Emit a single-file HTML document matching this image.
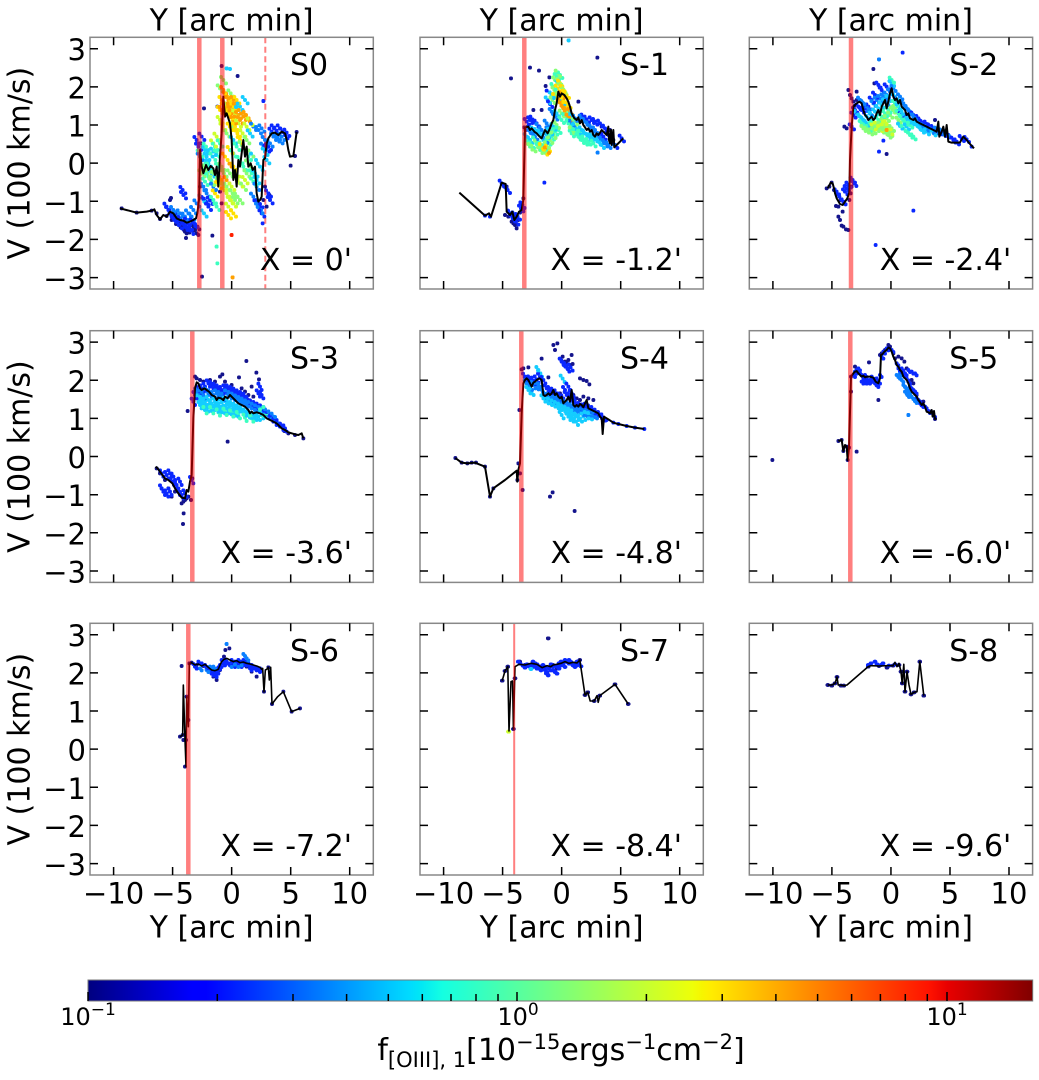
<!DOCTYPE html>
<html><head><meta charset="utf-8"><style>
html,body{margin:0;padding:0;background:#fff;}
svg{display:block;}
text{font-family:"DejaVu Sans","Liberation Sans",sans-serif;fill:#000;}
.ln{fill:none;stroke:#000;stroke-width:2;stroke-linejoin:round;vector-effect:non-scaling-stroke;}
.ln2{fill:none;stroke:#000;stroke-width:1.6;stroke-linejoin:round;vector-effect:non-scaling-stroke;}
.pn{fill:none;stroke:none;marker-start:url(#mn);marker-mid:url(#mn);marker-end:url(#mn);}
.pb{fill:none;stroke:none;marker-start:url(#mb);marker-mid:url(#mb);marker-end:url(#mb);}
.pa{fill:none;stroke:none;marker-start:url(#ma);marker-mid:url(#ma);marker-end:url(#ma);}
.pc{fill:none;stroke:none;marker-start:url(#mc);marker-mid:url(#mc);marker-end:url(#mc);}
.pq{fill:none;stroke:none;marker-start:url(#mq);marker-mid:url(#mq);marker-end:url(#mq);}
.pg{fill:none;stroke:none;marker-start:url(#mg);marker-mid:url(#mg);marker-end:url(#mg);}
.pl{fill:none;stroke:none;marker-start:url(#ml);marker-mid:url(#ml);marker-end:url(#ml);}
.py{fill:none;stroke:none;marker-start:url(#my);marker-mid:url(#my);marker-end:url(#my);}
.po{fill:none;stroke:none;marker-start:url(#mo);marker-mid:url(#mo);marker-end:url(#mo);}
.pr{fill:none;stroke:none;marker-start:url(#mr);marker-mid:url(#mr);marker-end:url(#mr);}
</style></head><body>
<svg width="1039" height="1080" viewBox="0 0 1039 1080">
<defs>
<linearGradient id="jet" x1="0" y1="0" x2="1" y2="0">
<stop offset="0" stop-color="#000080"/><stop offset="0.11" stop-color="#0000ff"/><stop offset="0.125" stop-color="#0000ff"/><stop offset="0.34" stop-color="#00dbff"/><stop offset="0.35" stop-color="#00e5f7"/><stop offset="0.375" stop-color="#14ffe2"/><stop offset="0.64" stop-color="#eeff08"/><stop offset="0.65" stop-color="#f7f500"/><stop offset="0.66" stop-color="#ffec00"/><stop offset="0.89" stop-color="#ff1300"/><stop offset="0.91" stop-color="#e80000"/><stop offset="1" stop-color="#800000"/>
</linearGradient>
<marker id="mn" markerUnits="userSpaceOnUse" markerWidth="12" markerHeight="12" viewBox="0 0 2 2" refX="1" refY="1"><circle cx="1" cy="1" r="1" fill="#14148c"/></marker>
<marker id="mb" markerUnits="userSpaceOnUse" markerWidth="12" markerHeight="12" viewBox="0 0 2 2" refX="1" refY="1"><circle cx="1" cy="1" r="1" fill="#0a28ff"/></marker>
<marker id="ma" markerUnits="userSpaceOnUse" markerWidth="12" markerHeight="12" viewBox="0 0 2 2" refX="1" refY="1"><circle cx="1" cy="1" r="1" fill="#0a80ff"/></marker>
<marker id="mc" markerUnits="userSpaceOnUse" markerWidth="12" markerHeight="12" viewBox="0 0 2 2" refX="1" refY="1"><circle cx="1" cy="1" r="1" fill="#14cdff"/></marker>
<marker id="mq" markerUnits="userSpaceOnUse" markerWidth="12" markerHeight="12" viewBox="0 0 2 2" refX="1" refY="1"><circle cx="1" cy="1" r="1" fill="#3cffc0"/></marker>
<marker id="mg" markerUnits="userSpaceOnUse" markerWidth="12" markerHeight="12" viewBox="0 0 2 2" refX="1" refY="1"><circle cx="1" cy="1" r="1" fill="#86ff76"/></marker>
<marker id="ml" markerUnits="userSpaceOnUse" markerWidth="12" markerHeight="12" viewBox="0 0 2 2" refX="1" refY="1"><circle cx="1" cy="1" r="1" fill="#ccff2c"/></marker>
<marker id="my" markerUnits="userSpaceOnUse" markerWidth="12" markerHeight="12" viewBox="0 0 2 2" refX="1" refY="1"><circle cx="1" cy="1" r="1" fill="#ffe000"/></marker>
<marker id="mo" markerUnits="userSpaceOnUse" markerWidth="12" markerHeight="12" viewBox="0 0 2 2" refX="1" refY="1"><circle cx="1" cy="1" r="1" fill="#ffa000"/></marker>
<marker id="mr" markerUnits="userSpaceOnUse" markerWidth="12" markerHeight="12" viewBox="0 0 2 2" refX="1" refY="1"><circle cx="1" cy="1" r="1" fill="#ff2000"/></marker>
<g id="ax">
<rect x="0" y="0" width="283.3" height="251.7" fill="none" stroke="#888" stroke-width="1.5"/>
<path d="M23.6 251.7v-8M82.6 251.7v-8M141.65 251.7v-8M200.7 251.7v-8M259.7 251.7v-8M23.6 0v8M82.6 0v8M141.65 0v8M200.7 0v8M259.7 0v8M0 11.44h8M0 49.6h8M0 87.7h8M0 125.85h8M0 164h8M0 202.1h8M0 240.3h8M283.3 11.44h-8M283.3 49.6h-8M283.3 87.7h-8M283.3 125.85h-8M283.3 164h-8M283.3 202.1h-8M283.3 240.3h-8" stroke="#000" stroke-width="1.5" fill="none"/>
</g>
</defs>
<rect width="1039" height="1080" fill="#fff"/>

<!-- S0 -->
<g transform="scale(0.333333)">
<polyline class="pn" points="365,625 410,638 455,632 470,640 480,657 500,648 510,600 513,594 520,640 525,648 530,660 535,655 540,668 545,672 548,680 552,690 558,714 560,700 565,685 570,690 575,675 580,680 585,690 590,700 595,705 598,688 600,560 603,430 605,520 612,325 637,707 606,830 665,198 713,228 652,320 660,575 665,610 790,600 795,560 800,620 808,585 872,497 885,468 890,396 515,660 528,672 542,682 555,695 568,698 580,692 592,680"/>
<g id="c0">
<polyline class="pb" points="500,620 505,630 515,650 522,655 528,665 532,650 538,675 542,660 550,672 555,680 562,665 568,680 572,692 578,668 585,672 548,570 550,585 590,420 595,440 605,410 612,600 618,605 625,620 630,602 770,610 780,612 785,640 800,445 805,440 815,395 822,385 830,392 840,385 848,395 855,405 860,398 805,580 810,600"/>
<polyline class="pa" points="520,630 530,645 540,640 555,650 565,640 575,650 580,630 590,610 610,560 620,580 640,560 600,470 760,590 770,560 775,620 780,630 790,440 795,420 810,430 820,410 830,415 840,420 845,410 760,380 775,390 785,385"/>
<polyline class="pc" points="615,450 620,470 630,460 640,455 700,420 715,330 720,320 735,300 750,400 760,470 765,520 780,500 770,540 625,490 635,520 610,510 795,455 800,480 605,595 612,640"/>
<polyline class="pq" points="600,460 608,480 618,440 628,500 638,470 645,440 650,460 655,500 660,430 700,460 710,440 720,480 730,500 745,470 755,520 760,545 640,600 650,620 625,530 615,545"/>
<polyline class="pg" points="605,520 615,505 622,520 635,545 642,525 660,540 665,500 672,520 680,560 690,520 698,580 705,600 712,590 720,600 730,560 740,520 745,490 752,460 740,420 725,435 700,380 688,320 692,280 680,400 670,240 660,265"/>
<polyline class="pl" points="640,430 650,410 670,560 680,580 690,600 700,610 685,620 695,560 710,520 720,550 735,540 728,400 740,380 750,365 715,370 705,340 660,360 668,380"/>
<polyline class="py" points="665,300 672,320 680,330 690,345 698,360 705,380 712,400 720,420 690,380 700,320 710,300 682,290 660,330 675,470 690,450 700,500 665,540 655,555 645,580 685,645 700,640"/>
<polyline class="po" points="670,270 678,285 685,300 690,320 695,340 700,300 708,320 715,345 720,360 730,350 738,345 742,355 675,310 665,330 680,540 695,500 700,360"/>
</g>
<use href="#c0" transform="translate(8,10)"/>
<use href="#c0" transform="translate(-7,-9)"/>
<polyline class="pc" points="680,205 690,207 680,205"/>
<polyline class="pq" points="650,740 652,790 650,740"/>
<polyline class="pb" points="790,303 788,670 790,303"/>
<polyline class="po" points="698,832 698,832"/>
<polyline class="pr" points="695,705 695,705"/>
<polyline class="ln" points="360,625 410,638 440,635 455,632 463,628 470,645 480,658 490,645 500,650 510,635 520,640 530,655 540,660 550,662 560,668 570,665 580,660 588,655 592,640 597,600 600,450 605,500 610,520 618,495 625,510 632,498 640,505 645,525 650,500 655,560 660,470 665,400 670,290 675,350 680,340 690,370 695,420 700,540 705,510 710,560 715,480 720,500 725,460 730,420 735,470 740,440 745,500 752,490 758,510 765,500 770,580 775,605 780,600 785,590 790,480 795,475 800,430 805,415 815,400 825,398 835,405 845,395 855,400 860,420 865,450 870,470 880,468 890,396"/>
</g>

<!-- S-1 -->
<g transform="translate(415,30) scale(0.333333)">
<polyline class="pn" points="288,145 345,113 372,122 403,142 392,168 490,215 547,83 270,555 275,470 280,560 290,575 295,580 300,585 305,595 310,570 315,548 320,520 325,505 328,292 332,300 338,290 355,240 380,240 585,300 590,320 595,330 560,290 575,305"/>
<g id="c1">
<polyline class="pb" points="260,460 268,470 278,480 285,550 293,565 298,555 303,575 308,560 318,535 322,525 335,275 345,270 352,268 365,280 405,222 540,275 555,280 570,295 580,315 600,345 620,325 565,320 530,270 515,268 505,262"/>
<polyline class="pa" points="340,300 350,310 360,320 370,290 380,300 395,280 410,245 420,260 500,265 510,275 520,285 530,295 540,300 550,320 560,330 570,340 580,345 590,335 480,265 470,280 400,300 390,330"/>
<polyline class="pc" points="335,320 345,330 355,300 365,305 375,310 385,330 395,315 405,305 415,290 425,250 440,215 455,230 470,260 480,290 490,305 500,300 510,310 520,320 530,320 540,325 550,335 560,345 398,210 410,195 430,160"/>
<polyline class="pq" points="340,340 350,345 360,330 370,350 380,345 390,355 400,335 410,320 420,305 430,300 440,270 450,260 460,280 470,310 490,320 500,330 510,335 520,335 535,340 495,310 480,305 425,140 435,135 415,170"/>
<polyline class="pg" points="345,350 355,355 365,340 375,360 385,360 395,345 405,330 415,315 425,285 440,250 450,240 460,255 470,300 480,275 420,150 428,130 432,155 438,170 445,180 418,180 425,200 412,210"/>
<polyline class="py" points="380,350 390,365 398,355 420,200 428,175 435,160 442,175 448,190 455,195 445,210 460,225 450,225"/>
<polyline class="po" points="395,360 440,195 445,235 450,240 455,250 460,262 465,245 440,225 435,215"/>
</g>
<use href="#c1" transform="translate(7,9)"/>
<use href="#c1" transform="translate(-6,-8)"/>
<polyline class="pb" points="210,557 225,560 388,458 395,182"/>
<polyline class="pa" points="548,368 548,368"/>
<polyline class="pc" points="461,31 461,31"/>
<polyline class="ln" points="133,488 210,557 222,550 228,560 260,458 272,462 275,545 285,555 292,545 298,570 305,560 312,545 320,540 325,510 330,292 340,290 345,300 350,295 358,305 365,310 372,318 380,325 385,312 390,300 398,310 405,295 410,280 415,270 420,240 425,220 430,185 435,200 440,190 448,195 455,205 460,215 465,230 470,250 478,265 485,270 490,262 495,280 500,270 505,285 510,292 515,300 520,295 525,305 530,300 535,315 540,320 545,310 550,315 555,308 560,300 565,305 570,310 575,315 580,290 582,330 585,340 588,300 590,345 595,300 598,352 605,345 625,325"/>
</g>

<!-- S-2 -->
<g transform="translate(700,0) scale(0.333333)">
<polyline class="pn" points="520,207 523,250 445,270 450,285 455,295 460,305 463,318 470,275 433,380 440,385 380,565 388,560 395,548 402,570 408,618 415,620 422,600 428,635 415,650 420,660 425,677 430,680 438,688 445,690 448,600 452,580 455,560 560,462 470,300 705,360 715,400"/>
<g id="c2">
<polyline class="pb" points="410,575 418,590 430,605 435,575 440,565 445,555 458,540 462,550 455,380 460,345 465,330 475,320 485,330 495,325 505,320 515,300 525,285 535,255 545,270 560,260 575,250 600,340 620,350 640,345 655,355 665,368 680,372 690,380 700,385 720,395 730,400 745,405 760,420 770,425 785,415 800,418"/>
<polyline class="pa" points="480,300 490,310 500,320 510,340 520,310 530,300 540,295 550,290 560,285 570,275 580,265 590,300 600,290 610,310 620,325 630,335 640,350 650,360 660,375 670,380 680,385 695,392 710,390 725,395 740,400 555,300 565,315"/>
<polyline class="pc" points="470,340 480,350 490,360 500,370 505,355 515,345 525,335 535,325 545,315 555,305 565,295 575,250 585,290 595,320 605,335 615,350 625,360 635,365 645,370 655,380 665,390 680,395 700,398 620,380 600,378"/>
<polyline class="pq" points="485,370 495,380 505,385 515,375 525,370 535,360 545,350 555,340 565,330 575,240 585,310 595,340 605,355 615,365 630,375 640,410 630,405 610,385"/>
<polyline class="pg" points="490,385 500,390 510,395 520,392 530,385 540,375 550,365 560,355 570,345 578,330 585,325 595,360 545,390 555,395 565,390 575,385 570,400 565,405"/>
<polyline class="pl" points="520,380 530,375 540,385 550,380 555,372 560,370 565,380 570,395"/>
</g>
<use href="#c2" transform="translate(7,8)"/>
<use href="#c2" transform="translate(-6,-7)"/>
<polyline class="pb" points="537,455 550,422 640,632 527,735 608,158 815,440"/>
<polyline class="pa" points="537,178 537,178"/>
<polyline class="po" points="560,390 560,390"/>
<polyline class="ln" points="383,565 392,548 398,550 402,565 405,580 410,595 420,612 428,615 435,605 442,595 448,578 450,480 455,380 460,320 465,315 470,310 478,305 485,310 490,330 495,345 500,350 505,360 510,355 515,350 520,360 525,355 530,340 535,330 540,345 545,320 550,310 555,300 560,325 565,305 570,280 575,265 580,290 585,300 590,295 595,310 600,300 605,320 610,325 615,330 620,345 625,340 630,355 640,360 645,355 650,365 660,370 670,375 680,380 690,385 700,390 710,395 715,365 718,410 725,395 730,380 735,410 740,375 745,425 755,428 765,428 775,428 780,427 790,410 800,420 810,432 822,445"/>
</g>

<!-- S-3 -->
<g transform="translate(85,325) scale(0.333333)">
<polyline class="pn" points="484,108 412,148 462,157 514,143 522,163 500,185 428,350 308,258 294,597 296,565 290,535 295,530 300,525 305,520 310,515 318,525 322,460 215,430 225,445 240,465 250,490 260,515 270,500 330,155 335,160 345,165 355,170 375,165 390,170 405,155 420,170 440,180 470,190 480,200 490,210 505,215 598,318 610,325 630,330 655,340"/>
<g id="c3">
<polyline class="pb" points="230,445 245,450 255,445 262,470 275,480 285,470 290,510 300,505 265,455 280,500 230,490 235,500 245,505 255,500 320,465 325,230 330,210 340,195 350,190 360,185 370,175 380,180 390,185 400,190 410,195 420,190 430,190 440,195 450,200 460,205 470,210 480,215 490,225 500,235 510,240 520,245 530,250 540,255 550,270 560,280 570,290 580,295 590,305 600,310 520,205 530,210 525,185"/>
<polyline class="pa" points="335,200 345,205 355,210 365,200 375,205 385,210 395,205 405,210 415,215 425,205 435,210 445,215 455,220 465,225 475,230 485,235 495,240 505,245 515,250 525,255 535,258 545,262 555,268 565,275 575,285"/>
<polyline class="pc" points="340,220 350,225 360,230 370,225 380,235 390,230 400,235 410,232 420,228 430,232 440,240 450,245 460,250 470,255 480,262 490,268 500,272 510,275 520,275 530,270 345,240 355,245 365,250 375,248 385,245 395,250 405,252 415,255 425,255 435,258 445,262 455,265"/>
<polyline class="pq" points="360,255 380,255 400,262 420,260 440,265 460,270 480,278 500,280 530,262 540,255"/>
</g>
<use href="#c3" transform="translate(5,10)"/>
<use href="#c3" transform="translate(-5,-9)"/>
<polyline class="ln" points="212,425 218,430 225,440 232,450 240,460 250,465 262,475 270,490 280,505 290,518 300,520 305,495 310,500 315,470 320,450 325,280 330,190 335,172 340,175 345,190 350,195 358,190 365,195 372,200 380,210 390,215 395,225 400,218 408,220 415,225 420,215 428,220 435,210 440,215 445,220 450,225 455,230 460,235 470,240 480,245 490,255 495,265 500,260 505,265 515,262 525,265 535,270 540,275 545,280 555,285 565,290 575,295 580,300 590,310 600,315 610,322 620,325 630,328 640,330 650,325 655,340"/>
</g>

<!-- S-4 -->
<g transform="translate(380,280) scale(0.333333)">
<polyline class="pn" points="520,195 532,190 525,210 548,230 555,245 560,250 565,240 570,255 575,225 578,252 485,236 445,262 430,265 600,295 610,300 620,303 628,313 625,355 640,360 505,292 510,650 518,637 584,693 428,630 420,580 415,550 418,390 425,268 226,534 245,548 262,550 275,548 288,548 315,560 330,650 340,625 412,600 580,345 590,355 600,360 610,350 560,380 540,340"/>
<g id="c4">
<polyline class="pb" points="550,250 558,258 562,265 572,262 545,245 435,290 440,300 450,298 460,302 470,298 480,290 490,300 500,325 510,330 520,335 530,340 540,350 550,355 560,345 570,350 580,365 590,370 600,378 610,382 620,380 630,385 640,390 650,398 660,405 670,412 555,330 565,320 575,340"/>
<polyline class="pa" points="440,310 450,320 460,315 470,318 480,320 495,345 505,350 515,355 525,360 535,360 545,365 555,370 565,375 575,380 585,385 595,390 605,395 615,398 625,400 635,402 645,405"/>
<polyline class="pc" points="445,330 455,335 475,270 480,280 490,355 500,360 510,365 520,370 530,375 540,380 550,385 560,390 570,395 580,400 590,410 600,415 610,410 620,405 630,408 545,405 565,410 575,415 588,425 548,296"/>
</g>
<use href="#c4" transform="translate(6,10)"/>
<use href="#c4" transform="translate(-6,-9)"/>
<polyline class="pb" points="680,420 700,428 715,432 740,438 765,443 793,447"/>
<polyline class="ln" points="226,534 245,548 262,550 285,548 315,560 330,650 340,625 375,600 410,572 412,605 415,570 420,550 425,400 430,310 435,300 440,295 445,300 450,310 455,320 460,308 465,305 470,300 478,295 485,300 490,345 495,348 500,345 505,340 510,345 515,340 520,330 525,345 530,340 535,350 540,355 545,350 550,370 555,365 560,360 565,350 570,365 575,330 580,375 585,380 590,375 595,380 600,372 605,375 610,382 615,370 620,360 625,385 635,390 645,395 655,400 660,410 665,415 668,462 672,410 685,418 700,428 715,432 740,438 765,443 793,447"/>
</g>

<!-- S-5 -->
<g transform="translate(745,325) scale(0.333333)">
<polyline class="pn" points="82,405 400,225 372,112 335,380 280,348 290,345 295,378 305,365 308,405 312,368 318,200 318,155 405,90 410,85 420,75 430,60 435,65 445,85 450,100 460,95 470,100 478,110 485,130 500,165 505,175 515,210 525,230 535,230 545,250 555,260 570,282 330,125"/>
<g id="c5">
<polyline class="pb" points="325,150 330,140 335,135 340,130 345,145 350,150 355,160 360,150 365,160 370,170 375,165 380,155 385,165 390,175 395,180 395,160 400,170 405,150 350,170 360,170 410,95 415,80 425,70 440,75 455,115 460,130 465,140 470,130 475,150 480,145 485,160 490,170 495,185 500,190 505,195 510,200 515,220 520,225 525,235 530,240 540,245 550,258 560,262 565,270 490,135 500,140 510,145"/>
<polyline class="pa" points="455,150 460,155 470,165 475,180 480,185 485,190 490,200 495,210 500,215 505,222 510,228 480,200 487,210 465,145"/>
</g>
<use href="#c5" transform="translate(5,6)"/>
<polyline class="pa" points="490,270 490,270"/>
<polyline class="ln" points="280,348 290,345 295,378 300,360 305,365 308,405 312,368 318,155 325,145 330,140 335,138 340,145 345,150 350,155 355,152 360,157 365,155 375,155 385,158 392,170 400,175 405,160 408,90 412,88 418,80 425,75 430,68 435,70 440,80 445,95 450,105 455,120 460,125 465,135 470,140 475,155 480,160 485,165 490,175 495,190 500,200 505,205 510,210 515,215 520,225 525,232 530,240 535,235 540,245 545,260 550,262 555,265 560,255 563,275 567,258 570,282 575,280"/>
</g>

<!-- S-6 -->
<g transform="translate(0,580) scale(0.333333)">
<polyline class="pn" points="545,258 540,470 548,465 550,480 555,560 558,480 560,350 565,420 568,250 575,248 590,255 600,250 610,258 625,262 640,290 650,300 660,270 672,230 676,210 688,205 700,250 720,245 740,260 755,275 770,290 785,270 792,335 805,262 816,372 850,335 875,395 900,385"/>
<g id="c6">
<polyline class="pb" points="580,252 585,260 595,245 605,250 615,255 620,265 630,275 635,280 640,270 645,285 650,275 655,262 660,255 665,240 670,250 675,240 680,245 685,250 690,250 695,240 700,255 705,245 710,250 715,240 720,255 725,250 730,240 735,250 740,245 745,250 750,265 755,255 760,260 765,265 770,262 775,270 780,265"/>
<polyline class="pa" points="600,265 620,270 630,260 640,260 690,255 700,248 710,255 720,250 730,222 740,235"/>
</g>
<use href="#c6" transform="translate(5,6)"/>
<polyline class="pa" points="680,192 680,192"/>
<polyline class="ln2" points="540,470 548,465 550,315 555,480 558,560 560,350 565,440 568,250 575,248 585,255 595,252 605,258 615,253 625,262 635,270 645,272 655,268 660,255 665,245 672,238 680,235 690,240 700,245 710,242 720,248 730,246 740,250 750,252 760,255 770,258 780,262 785,268 788,265 792,335 796,270 800,268 805,262 808,300 812,262 816,372 833,350 850,335 875,395 900,385"/>
</g>

<!-- S-7 and S-8 -->
<g transform="translate(415,615) scale(0.4,0.333333)">
<polyline class="pn" points="333,70 218,197 225,168 232,155 246,342 250,190 262,140 275,150 300,145 320,160 330,175 345,150 355,160 370,150 385,142 400,150 412,135 425,240 432,232 448,258 462,242 500,208 533,267"/>
<g id="c7">
<polyline class="pb" points="258,140 270,152 280,148 290,150 295,140 300,155 305,148 310,160 315,155 320,150 325,165 328,175 335,160 340,148 345,165 350,170 355,155 360,145 365,140 370,150 375,135 380,140 385,135 390,145 395,150 400,145 405,140 410,148"/>
</g>
<use href="#c7" transform="translate(5,6)"/>
<polyline class="pc" points="290,162 290,162"/>
<polyline class="pl" points="234,350 234,350"/>
<polyline class="ln2" points="218,197 225,168 232,155 235,348 240,200 244,198 246,342 250,155 260,148 275,150 290,145 305,148 318,158 330,152 340,155 345,150 355,148 365,145 375,140 385,145 395,142 405,144 412,135 425,240 432,232 438,258 448,258 455,242 458,262 462,242 500,208 533,267"/>
<polyline class="pn" points="1032,210 1042,212 1050,205 1055,186 1065,212 1072,212 1133,155 1160,153 1180,158 1195,152 1210,150 1215,170 1218,205 1225,230 1240,238 1262,140 1272,242 1230,170 1248,232"/>
<polyline class="pb" points="1133,150 1140,145 1150,140 1155,148 1165,150 1170,145 1185,152 1200,148"/>
<polyline class="ln2" points="1032,210 1042,210 1050,205 1055,186 1058,210 1065,210 1072,212 1080,210 1133,155 1140,152 1160,153 1180,152 1195,152 1200,142 1205,155 1210,145 1215,170 1218,205 1222,148 1225,230 1230,170 1235,210 1240,238 1248,232 1255,230 1262,140 1272,242"/>
</g>

<!-- red vertical lines -->
<g fill="#ff0000" fill-opacity="0.5">
<rect x="197.05" y="37.3" width="4.5" height="251.7"/>
<rect x="220.05" y="37.3" width="4.5" height="251.7"/>
<rect x="522.05" y="37.3" width="4.5" height="251.7"/>
<rect x="848.75" y="37.3" width="4.5" height="251.7"/>
<rect x="190.05" y="330.7" width="4.5" height="251.7"/>
<rect x="519.05" y="330.7" width="4.5" height="251.7"/>
<rect x="848.05" y="330.7" width="4.5" height="251.7"/>
<rect x="186.05" y="623.3" width="4.5" height="251.7"/>
<rect x="513.2" y="623.3" width="2" height="251.7"/>
</g>
<line x1="265.3" y1="37.3" x2="265.3" y2="289" stroke="#ff0000" stroke-opacity="0.5" stroke-width="2" stroke-dasharray="6,3.5"/>

<!-- axes frames -->
<use href="#ax" transform="translate(90,37.3)"/>
<use href="#ax" transform="translate(420,37.3)"/>
<use href="#ax" transform="translate(749.3,37.3)"/>
<use href="#ax" transform="translate(90,330.7)"/>
<use href="#ax" transform="translate(420,330.7)"/>
<use href="#ax" transform="translate(749.3,330.7)"/>
<use href="#ax" transform="translate(90,623.3)"/>
<use href="#ax" transform="translate(420,623.3)"/>
<use href="#ax" transform="translate(749.3,623.3)"/>

<!-- titles -->
<g font-size="30" text-anchor="middle">
<text x="231.65" y="30.5">Y [arc min]</text>
<text x="561.65" y="30.5">Y [arc min]</text>
<text x="890.95" y="30.5">Y [arc min]</text>
<text x="231.65" y="937.3">Y [arc min]</text>
<text x="561.65" y="937.3">Y [arc min]</text>
<text x="890.95" y="937.3">Y [arc min]</text>
<text transform="translate(29.5,163.15) rotate(-90)">V (100 km/s)</text>
<text transform="translate(29.5,456.55) rotate(-90)">V (100 km/s)</text>
<text transform="translate(29.5,749.15) rotate(-90)">V (100 km/s)</text>
</g>

<!-- y tick labels -->
<g font-size="29" text-anchor="end">
<text x="86" y="60.2">3</text><text x="86" y="98.4">2</text><text x="86" y="136.5">1</text><text x="86" y="174.7">0</text><text x="86" y="212.8">−1</text><text x="86" y="250.9">−2</text><text x="86" y="289.1">−3</text>
<text x="86" y="353.6">3</text><text x="86" y="391.8">2</text><text x="86" y="429.9">1</text><text x="86" y="468.1">0</text><text x="86" y="506.2">−1</text><text x="86" y="544.3">−2</text><text x="86" y="582.5">−3</text>
<text x="86" y="646.2">3</text><text x="86" y="684.4">2</text><text x="86" y="722.5">1</text><text x="86" y="760.7">0</text><text x="86" y="798.8">−1</text><text x="86" y="836.9">−2</text><text x="86" y="875.1">−3</text>
</g>

<!-- x tick labels -->
<g font-size="29" text-anchor="middle">
<text x="113.6" y="903.3">−10</text><text x="172.6" y="903.3">−5</text><text x="231.65" y="903.3">0</text><text x="290.7" y="903.3">5</text><text x="349.7" y="903.3">10</text>
<text x="443.6" y="903.3">−10</text><text x="502.6" y="903.3">−5</text><text x="561.65" y="903.3">0</text><text x="620.7" y="903.3">5</text><text x="679.7" y="903.3">10</text>
<text x="772.9" y="903.3">−10</text><text x="831.9" y="903.3">−5</text><text x="890.95" y="903.3">0</text><text x="950" y="903.3">5</text><text x="1009" y="903.3">10</text>
</g>

<!-- panel labels -->
<g font-size="30">
<text x="290" y="75">S0</text>
<text x="620" y="75">S-1</text>
<text x="949.3" y="75">S-2</text>
<text x="290" y="368.4">S-3</text>
<text x="620" y="368.4">S-4</text>
<text x="949.3" y="368.4">S-5</text>
<text x="290" y="661">S-6</text>
<text x="620" y="661">S-7</text>
<text x="949.3" y="661">S-8</text>
</g>
<g font-size="30" text-anchor="end">
<text x="352" y="269.8">X = 0'</text>
<text x="682" y="269.8">X = -1.2'</text>
<text x="1011.3" y="269.8">X = -2.4'</text>
<text x="352" y="563.2">X = -3.6'</text>
<text x="682" y="563.2">X = -4.8'</text>
<text x="1011.3" y="563.2">X = -6.0'</text>
<text x="352" y="855.8">X = -7.2'</text>
<text x="682" y="855.8">X = -8.4'</text>
<text x="1011.3" y="855.8">X = -9.6'</text>
</g>

<!-- colorbar -->
<rect x="88" y="980" width="944.7" height="21" fill="url(#jet)" stroke="#777" stroke-width="1"/>
<path d="M88 1001v-9M517 1001v-9M947 1001v-9M217.3 1001v-7M293 1001v-7M346.6 1001v-7M388.3 1001v-7M422.3 1001v-7M451 1001v-7M476 1001v-7M498 1001v-7M646.4 1001v-7M722.2 1001v-7M775.9 1001v-7M817.6 1001v-7M851.6 1001v-7M880.4 1001v-7M905.3 1001v-7M927.3 1001v-7" stroke="#000" stroke-width="1.5" fill="none"/>
<g text-anchor="middle" font-size="24">
<text x="88" y="1025">10<tspan dy="-10" font-size="17">−1</tspan></text>
<text x="518" y="1025">10<tspan dy="-10" font-size="17">0</tspan></text>
<text x="947" y="1025">10<tspan dy="-10" font-size="17">1</tspan></text>
</g>
<text x="561" y="1060" text-anchor="middle" font-size="30">f<tspan font-size="21" dy="7">[OIII], 1</tspan><tspan dy="-7">[10</tspan><tspan font-size="21" dy="-11">−15</tspan><tspan dy="11">ergs</tspan><tspan font-size="21" dy="-11">−1</tspan><tspan dy="11">cm</tspan><tspan font-size="21" dy="-11">−2</tspan><tspan dy="11">]</tspan></text>
</svg>
</body></html>
